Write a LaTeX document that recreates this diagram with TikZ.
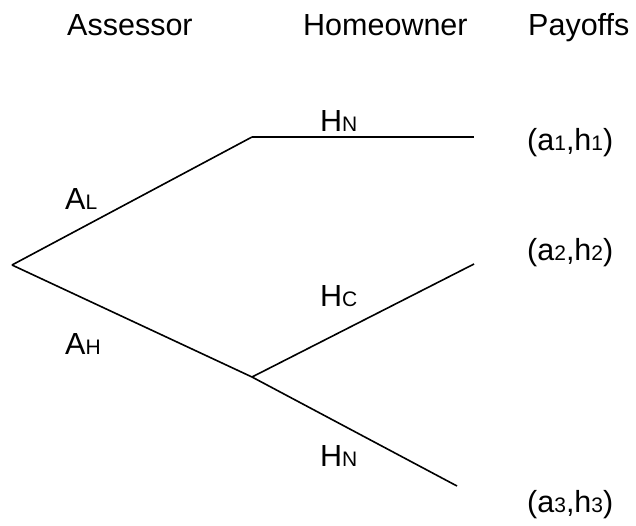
\documentclass[tikz,border=0pt]{standalone}
\usepackage{fontspec}
\setmainfont{Liberation Sans}
\newcommand{\smallpart}[1]{{\fontsize{21}{25}\selectfont #1}}
\newcommand{\lbl}[2]{#1\smallpart{#2}}
\begin{document}
\begin{tikzpicture}[x=1pt,y=-1pt,
  branch/.style={line width=1.6pt, black},
  txt/.style={font=\fontsize{30.5}{36}\selectfont, inner sep=0pt, anchor=base west}]
\useasboundingbox (0,0) rectangle (636,525);
% decision points
\coordinate (root) at (12,265);
\coordinate (up) at (252,137);
\coordinate (low) at (252,377);
\coordinate (e1) at (474,137);
\coordinate (e2) at (474,264);
\coordinate (e3) at (457,486);
% branches
\draw[branch] (root) -- (up);
\draw[branch] (root) -- (low);
\draw[branch] (up) -- (e1);
\draw[branch] (low) -- (e2);
\draw[branch] (low) -- (e3);
% column headings
\node[txt] (hA) at (67,35) {Assessor};
\node[txt] (hH) at (303,35) {Homeowner};
\node[txt] (hP) at (528,35) {Payoffs};
% branch labels
\node[txt] (aL) at (65,209.5) {\lbl{A}{L}};
\node[txt] (aH) at (65,354) {\lbl{A}{H}};
\node[txt] (hN1) at (320,131.5) {\lbl{H}{N}};
\node[txt] (hC) at (320,306) {\lbl{H}{C}};
\node[txt] (hN2) at (320,466) {\lbl{H}{N}};
% payoffs
\node[txt] (p1) at (527,150) {(a\smallpart{1},h\smallpart{1})};
\node[txt] (p2) at (527,260) {(a\smallpart{2},h\smallpart{2})};
\node[txt] (p3) at (527,512) {(a\smallpart{3},h\smallpart{3})};
\end{tikzpicture}
\end{document}
